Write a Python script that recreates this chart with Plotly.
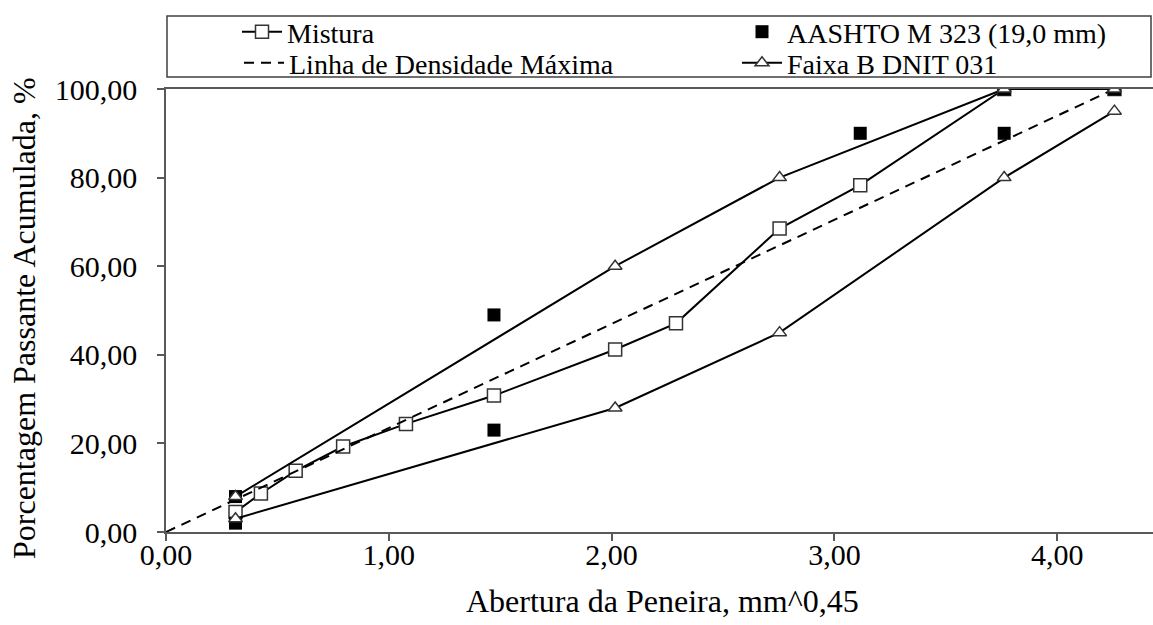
import plotly.graph_objects as go

# Sieve openings raised to 0.45 power (mm^0.45)
mistura_x = [0.312, 0.426, 0.582, 0.795, 1.077, 1.472, 2.016, 2.289, 2.754, 3.116, 3.762, 4.257]
mistura_y = [4.5, 8.7, 13.8, 19.3, 24.4, 30.8, 41.2, 47.1, 68.5, 78.3, 100.0, 100.0]

aashto_x = [0.312, 0.312, 1.472, 1.472, 3.116, 3.762, 3.762, 4.257]
aashto_y = [2.0, 8.0, 23.0, 49.0, 90.0, 90.0, 100.0, 100.0]

densidade_x = [0.0, 4.257]
densidade_y = [0.0, 100.0]

faixa_x = [0.312, 2.016, 2.754, 3.762, 4.257]
faixa_sup = [8.0, 60.0, 80.0, 100.0, 100.0]
faixa_inf = [3.0, 28.0, 45.0, 80.0, 95.0]

FONT = '"Liberation Serif", "Times New Roman", serif'
AX = "#595959"

fig = go.Figure()

fig.add_trace(go.Scatter(
    x=mistura_x, y=mistura_y, name="Mistura", mode="lines+markers",
    line=dict(color="black", width=2),
    marker=dict(symbol="square", size=13, color="white", line=dict(color="#333333", width=1.5)),
    legend="legend",
))
fig.add_trace(go.Scatter(
    x=densidade_x, y=densidade_y, name="Linha de Densidade Máxima", mode="lines",
    line=dict(color="black", width=2, dash="10px,7px"),
    legend="legend3",
))
fig.add_trace(go.Scatter(
    x=aashto_x, y=aashto_y, name="AASHTO M 323 (19,0 mm)", mode="markers",
    marker=dict(symbol="square", size=13, color="black", line=dict(color="black", width=0)),
    legend="legend2",
))
fig.add_trace(go.Scatter(
    x=faixa_x, y=faixa_sup, name="Faixa B DNIT 031", mode="lines+markers",
    legendgroup="faixa", legend="legend4",
    line=dict(color="black", width=2),
    marker=dict(symbol="triangle-up", size=12, color="white", line=dict(color="#333333", width=1.5)),
))
fig.add_trace(go.Scatter(
    x=faixa_x, y=faixa_inf, name="Faixa B DNIT 031", mode="lines+markers",
    legendgroup="faixa", showlegend=False, legend="legend4",
    line=dict(color="black", width=2),
    marker=dict(symbol="triangle-up", size=12, color="white", line=dict(color="#333333", width=1.5)),
))

W, H = 1153, 625
L, R, T, B = 166, 0, 89, 93
pw, ph = W - L - R, H - T - B


def px_x(p):
    return (p - L) / pw


def px_y(p):
    return (H - B - p) / ph


def leg(xpx, ypx, iw=40):
    return dict(
        x=px_x(xpx), y=px_y(ypx), xanchor="left", yanchor="middle",
        orientation="h", borderwidth=0, bgcolor="rgba(0,0,0,0)",
        font=dict(family=FONT, size=28, color="black"), itemwidth=iw,
    )


fig.update_layout(
    width=W, height=H,
    margin=dict(l=L, r=R, t=T, b=B),
    paper_bgcolor="white", plot_bgcolor="white",
    separators=",.",
    font=dict(family=FONT, size=30, color="black"),
    showlegend=True,
    legend=leg(237, 32),
    legend2=leg(737, 32),
    legend3=leg(239, 63),
    legend4=leg(737, 63),
    xaxis=dict(
        range=[0, 4.43], tickvals=[0, 1, 2, 3, 4], tickformat=".2f",
        showgrid=False, zeroline=False,
        showline=True, linecolor=AX, linewidth=1.5, mirror=True,
        ticks="outside", ticklen=7, tickcolor=AX, tickwidth=1.5,
        tickfont=dict(family=FONT, size=30, color="black"),
        ticklabelstandoff=-12,
    ),
    yaxis=dict(
        range=[0, 100], dtick=20, tickformat=".2f",
        showgrid=False, zeroline=False,
        showline=True, linecolor=AX, linewidth=1.5,
        ticks="outside", ticklen=7, tickcolor=AX, tickwidth=1.5,
        tickfont=dict(family=FONT, size=30, color="black"),
        ticklabelstandoff=14,
    ),
    shapes=[
        dict(type="rect", xref="paper", yref="paper",
             x0=px_x(167), x1=px_x(1151), y0=px_y(77), y1=px_y(16),
             line=dict(color="#404040", width=1.5), fillcolor="rgba(0,0,0,0)", layer="above"),
    ],
    annotations=[
        dict(text="Abertura da Peneira, mm^0,45", xref="paper", yref="paper",
             x=px_x(662), y=px_y(601), xanchor="center", yanchor="middle",
             showarrow=False, font=dict(family=FONT, size=32, color="black")),
        dict(text="Porcentagem Passante Acumulada, %", xref="paper", yref="paper",
             x=px_x(24), y=px_y(318), xanchor="center", yanchor="middle", textangle=-90,
             showarrow=False, font=dict(family=FONT, size=32, color="black")),
    ],
)

fig.write_html("out.html")
